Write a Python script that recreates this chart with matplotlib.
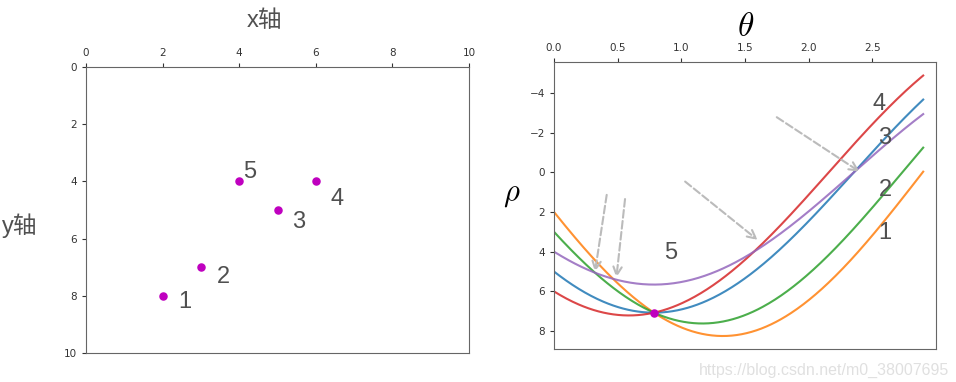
import numpy as np
import matplotlib
matplotlib.use("Agg")
import matplotlib.pyplot as plt

plt.rcParams['font.family'] = ['DejaVu Sans', 'Noto Sans CJK SC']
plt.rcParams['mathtext.fontset'] = 'cm'

# points in the image plane
labels = ['1', '2', '3', '4', '5']
px = [2, 3, 5, 6, 4]
py = [8, 7, 5, 4, 4]

# label positions
lab_x_left = [2.58, 3.58, 5.54, 6.55, 4.26]
lab_y_left = [8.22, 7.34, 5.42, 4.62, 3.67]
lab_x_right = [2.60, 2.60, 2.60, 2.55, 0.92]
lab_y_right = [3.06, 0.89, -1.73, -3.45, 4.07]

curve_colors = ['tab:orange', 'tab:green', 'tab:blue', 'tab:red', 'tab:purple']

# Hough space
theta = np.linspace(0, 2.9, 300)
common_theta = np.pi / 4
common_rho = 5 * np.sqrt(2)

# gray dashed arrows (start, end) in (theta, rho)
arrow_start = [(0.414, 1.14), (0.558, 1.35), (1.03, 0.47), (1.75, -2.77)]
arrow_end = [(0.322, 5.01), (0.49, 5.30), (1.60, 3.41), (2.40, -0.03)]

text_gray = '#505050'

fig = plt.figure(figsize=(9.56, 3.82), dpi=100)

# left: image space
ax1 = fig.add_axes([0.090, 0.076, 0.4006, 0.7486])
ax1.scatter(px, py, s=26, color='m', zorder=3)
for i in range(len(labels)):
    ax1.text(lab_x_left[i], lab_y_left[i], labels[i], fontsize=17, color=text_gray,
             ha='center', va='center', family='Liberation Sans')
ax1.set_xlim(0, 10)
ax1.set_ylim(10, 0)
ax1.set_xticks(range(0, 11, 2))
ax1.set_yticks(range(0, 11, 2))
ax1.xaxis.tick_top()
fig.text(0.277, 0.945, 'x轴', fontsize=17, color=text_gray, ha='center', va='center',
         family=['Liberation Sans', 'Noto Sans CJK SC'])
fig.text(0.021, 0.41, 'y轴', fontsize=17, color=text_gray, ha='center', va='center',
         family=['Liberation Sans', 'Noto Sans CJK SC'])

# right: Hough space
ax2 = fig.add_axes([0.5795, 0.0864, 0.3995, 0.7513])
for i in range(len(labels)):
    rho = px[i] * np.cos(theta) + py[i] * np.sin(theta)
    ax2.plot(theta, rho, color=curve_colors[i], lw=1.5, alpha=0.85)
    ax2.text(lab_x_right[i], lab_y_right[i], labels[i], fontsize=17, color=text_gray,
             ha='center', va='center', family='Liberation Sans')
ax2.scatter([common_theta], [common_rho], s=26, color='m', zorder=4)
for s, e in zip(arrow_start, arrow_end):
    ax2.annotate('', xy=e, xytext=s,
                 arrowprops=dict(arrowstyle='->', linestyle='--', color='#bbbbbb',
                                 lw=1.5, mutation_scale=15, shrinkA=0, shrinkB=0))
ax2.set_xlim(0, 3.0)
ax2.set_ylim(8.9, -5.55)
ax2.set_xticks([0.0, 0.5, 1.0, 1.5, 2.0, 2.5])
ax2.set_yticks([-4, -2, 0, 2, 4, 6, 8])
ax2.xaxis.tick_top()
fig.text(0.78, 0.93, r'$\theta$', fontsize=24, ha='center', va='center')
fig.text(0.535, 0.49, r'$\rho$', fontsize=22, ha='center', va='center')

for ax in (ax1, ax2):
    ax.tick_params(labelsize=7.5, colors='#333333', length=3)
    for sp in ax.spines.values():
        sp.set_color('#666666')

fig.text(0.993, 0.01, 'https://blog.csdn.net/m0_38007695', fontsize=11.5,
         color='#e0e0e0', ha='right', va='bottom', family='Liberation Sans')

plt.savefig('out.png')
